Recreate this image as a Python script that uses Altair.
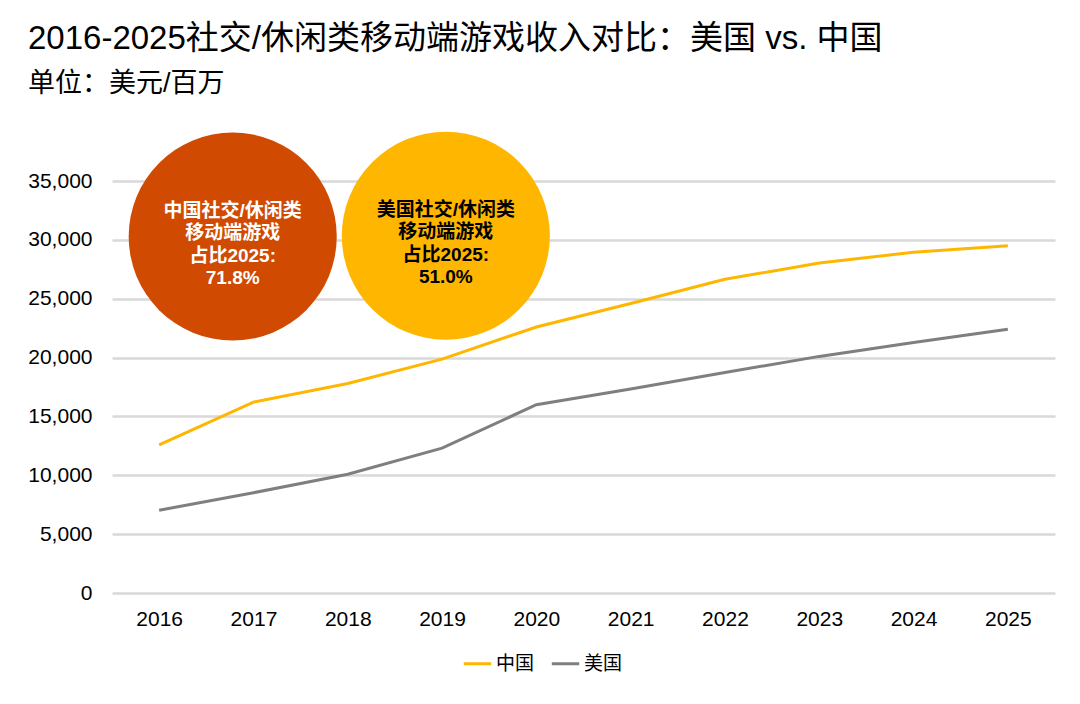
import altair as alt
import pandas as pd

years = [2016, 2017, 2018, 2019, 2020, 2021, 2022, 2023, 2024, 2025]
china = [12580, 16220, 17800, 19870, 22600, 24600, 26650, 28030, 28950, 29500]
usa = [7030, 8520, 10090, 12300, 16000, 17330, 18730, 20100, 21280, 22400]

series_names = ["中国", "美国"]
series_colors = ["#FFB600", "#7F7F7F"]

bubble_x = [2016.78, 2019.04]
bubble_y = [30280, 30350]
bubble_color = ["#D04A02", "#FFB600"]
bubble_text_color = ["#FFFFFF", "#000000"]
bubble_text = [
    "中国社交/休闲类\n移动端游戏\n占比2025:\n71.8%",
    "美国社交/休闲类\n移动端游戏\n占比2025:\n51.0%",
]

FONT = "Liberation Sans, Arial, Noto Sans CJK SC"

rows = []
for y, c, u in zip(years, china, usa):
    rows.append({"year": y, "value": c, "series": "中国"})
    rows.append({"year": y, "value": u, "series": "美国"})
df = pd.DataFrame(rows)

bub = pd.DataFrame({
    "x": bubble_x, "y": bubble_y, "fill": bubble_color,
    "tcolor": bubble_text_color, "label": bubble_text,
})

xscale = alt.Scale(domain=[2015.5, 2025.5], nice=False, zero=False)
yscale = alt.Scale(domain=[0, 35000], nice=False)

lines = alt.Chart(df).mark_line(strokeWidth=3).encode(
    x=alt.X("year:Q", scale=xscale, title=None,
            axis=alt.Axis(values=years, format="d", grid=False, ticks=False,
                          domain=False, labelFontSize=21, labelPadding=15,
                          labelColor="#000000", labelFont=FONT)),
    y=alt.Y("value:Q", scale=yscale, title=None,
            axis=alt.Axis(values=list(range(0, 35001, 5000)), format=",d",
                          grid=True, gridColor="#D9D9D9", gridWidth=2.5,
                          ticks=False, domain=False, labelFontSize=21,
                          labelPadding=20, labelColor="#000000", labelFont=FONT)),
    color=alt.Color("series:N",
                    scale=alt.Scale(domain=series_names, range=series_colors),
                    legend=alt.Legend(title=None, orient="none", direction="horizontal",
                                      legendX=350, legendY=467,
                                      labelFontSize=19, labelFont=FONT,
                                      labelColor="#000000", symbolType="stroke",
                                      symbolStrokeWidth=3, symbolSize=750,
                                      labelOffset=3, columnPadding=10)),
)

circles = alt.Chart(bub).mark_point(filled=True, opacity=1, shape="circle").encode(
    x=alt.X("x:Q", scale=xscale),
    y=alt.Y("y:Q", scale=yscale),
    fill=alt.Fill("fill:N", scale=None),
    size=alt.value(43300),
)

texts = alt.Chart(bub).mark_text(
    fontSize=19, fontWeight="bold", lineBreak="\n", lineHeight=22.5,
    align="center", baseline="middle", font=FONT, dy=-26,
).encode(
    x=alt.X("x:Q", scale=xscale),
    y=alt.Y("y:Q", scale=yscale),
    text="label:N",
    color=alt.Color("tcolor:N", scale=None),
)

chart = alt.layer(lines, circles, texts).properties(
    width=943, height=412,
    autosize=alt.AutoSizeParams(type="none"),
    padding={"left": 104, "top": 173, "right": 17, "bottom": 100},
    title=alt.TitleParams(
        text="2016-2025社交/休闲类移动端游戏收入对比：美国 vs. 中国",
        subtitle="单位：美元/百万",
        anchor="start", frame="group", dx=-84, offset=35,
        font=FONT, subtitleFont=FONT, fontSize=33, subtitleFontSize=27,
        fontWeight="normal", color="#000000", subtitleColor="#000000",
        subtitlePadding=15,
    ),
).configure(
    background="white",
    view=alt.ViewConfig(stroke=None),
)

chart.save("out.html", embed_options={"renderer": "svg", "actions": False})
